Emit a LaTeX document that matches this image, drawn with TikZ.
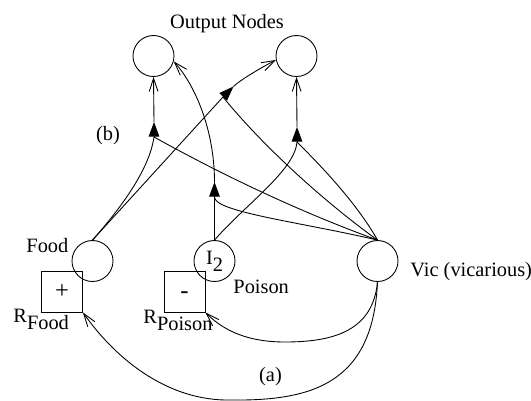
\documentclass[tikz,border=0pt]{standalone}
\usepackage{fontspec}
\setmainfont{Liberation Serif}
\usetikzlibrary{arrows.meta}

\tikzset{
  neuron/.style={circle,draw,minimum size=0.82cm,inner sep=0pt},
  signbox/.style={rectangle,draw,minimum size=0.82cm,inner sep=0pt,
    font=\fontsize{14}{16}\selectfont,text height=0.8em,text depth=0pt},
  lbl/.style={inner sep=0pt},
  toout/.style={-{Straight Barb[length=7.5pt,width=5pt]}},
  sumtip/.style={-{Triangle[length=0.29cm,width=0.21cm]}},
}

\begin{document}
\begin{tikzpicture}[x=0.02cm,y=-0.02cm,line width=0.5pt,
    font=\fontsize{11.6}{14}\selectfont]
  \useasboundingbox (0,0) rectangle (531,400);

  % output layer
  \node[neuron] (out1) at (153.5,56) {};
  \node[neuron] (out2) at (296.5,56) {};
  \node[lbl,anchor=base] (outlbl) at (227,28.5) {Output Nodes};

  % input layer
  \node[neuron] (food) at (92.5,261) {};
  \node[neuron] (itwo) at (214.5,261) {I\raisebox{-4pt}{2}};
  \node[neuron] (vic) at (377.5,261) {};
  \node[signbox] (rfood) at (62,291.5) {+};
  \node[signbox] (rpoison) at (184.5,291.5) {-};

  \node[lbl,anchor=base west] (foodlbl) at (26,252) {Food};
  \node[lbl,anchor=base west] (rfoodlbl) at (13,322) {R\raisebox{-4pt}{Food}};
  \node[lbl,anchor=base west] (poisonlbl) at (233,293) {Poison};
  \node[lbl,anchor=base west] (rpoisonlbl) at (143,323) {R\raisebox{-4.5pt}{Poison}};
  \node[lbl,anchor=base west] (viclbl) at (410,276) {Vic (vicarious)};
  \node[lbl,anchor=base] (albl) at (270.5,381.5) {(a)};
  \node[lbl,anchor=base] (blbl) at (108,140.5) {(b)};

  % summing points
  \coordinate (jL) at (154,137);    \coordinate (jLtip) at (154,122);
  \coordinate (jM) at (223,97);     \coordinate (jMtip) at (233.5,86.5);
  \coordinate (jI) at (214.5,197);  \coordinate (jItip) at (214.5,182);
  \coordinate (jR) at (297,142);    \coordinate (jRtip) at (297,127);

  % into the summing points
  \draw (food.north) .. controls (128,200) and (150,165) .. (jL);
  \draw (food.north) -- (jM);
  \draw (vic.north) .. controls (303,213) and (228,178) .. (jL);
  \draw (vic.north) .. controls (322,200) and (262,145) .. (jM);
  \draw (itwo.north) -- (jI);
  \draw (vic.north) .. controls (300,222) and (214.5,212) .. (jI);
  \draw (itwo.north) .. controls (245,205) and (295,170) .. (jR);
  \draw (vic.north) .. controls (355,200) and (315,160) .. (jR);

  \foreach \j in {jL,jM,jI,jR}
    \draw[sumtip] (\j) -- (\j tip);

  % to the output nodes
  \draw[toout] (jLtip) -- (out1.south);
  \draw[toout] (jMtip) .. controls (240,80) and (262.6,66.8) .. (out2.191);
  \draw[toout] (jItip) .. controls (214.5,130) and (195,85) .. (out1.-15);
  \draw[toout] (jRtip) -- (out2.south);

  % (a)
  \draw[toout] (vic.south) .. controls (373,330) and (335,342) .. (285,342)
    .. controls (250,342) and (225,332) .. (rpoison.south east);
  \draw[toout] (vic.south) .. controls (373,385) and (310,401) .. (230,400)
    .. controls (170,401) and (118,362) .. (rfood.south east);
\end{tikzpicture}
\end{document}
